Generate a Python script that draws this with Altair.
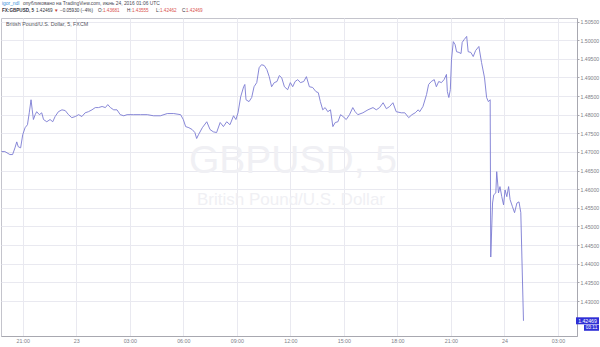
import altair as alt
import pandas as pd

# ---- data (minutes after 2016-06-22 21:00 UTC, price) ----
minutes = [
    -71, -60, -43, -34, -26, -20, -15, -7, 0, 8, 16, 22, 28, 32, 36, 42, 47, 56, 64, 70,
    81, 92, 101, 109, 120, 132, 143, 154, 165, 177, 188, 199, 210, 221, 233, 244, 255, 267, 278, 286,
    295, 306, 317, 328, 340, 351, 372, 396, 419, 440, 463, 486, 508, 531, 540, 548, 559, 570, 579, 585,
    591, 604, 619, 630, 641, 652, 664, 675, 686, 697, 709, 717, 724, 733, 743, 747, 751, 761, 770, 778,
    787, 795, 803, 812, 821, 829, 837, 846, 855, 863, 871, 880, 891, 900, 908, 916, 925, 934, 945, 954,
    964, 975, 986, 994, 1001, 1009, 1017, 1026, 1035, 1043, 1051, 1060, 1069, 1077, 1088, 1099, 1110, 1118, 1127, 1144,
    1161, 1178, 1189, 1200, 1212, 1223, 1234, 1245, 1256, 1273, 1285, 1298, 1309, 1320, 1330, 1335, 1346, 1358, 1365, 1374,
    1384, 1391, 1399, 1408, 1417, 1425, 1428, 1433, 1438, 1442, 1448, 1454, 1459, 1467, 1474, 1478, 1485, 1493, 1498, 1507,
    1515, 1523, 1534, 1543, 1553, 1560, 1566, 1572, 1574, 1580, 1584, 1591, 1594, 1600, 1605, 1611, 1617, 1622, 1628, 1634,
    1639, 1647, 1654, 1662, 1669, 1675, 1684,
]
prices = [
    1.4701, 1.4701, 1.4693, 1.4693, 1.4711, 1.4727, 1.4714, 1.4711, 1.4746, 1.4765, 1.4773, 1.4805, 1.4840, 1.4813, 1.4787, 1.4800, 1.4808, 1.4800, 1.4805, 1.4787,
    1.4781, 1.4787, 1.4781, 1.4795, 1.4808, 1.4813, 1.4811, 1.4800, 1.4792, 1.4795, 1.4800, 1.4795, 1.4805, 1.4808, 1.4813, 1.4819, 1.4819, 1.4822, 1.4819, 1.4827,
    1.4819, 1.4813, 1.4813, 1.4800, 1.4797, 1.4800, 1.4800, 1.4800, 1.4800, 1.4797, 1.4797, 1.4803, 1.4803, 1.4800, 1.4787, 1.4768, 1.4765, 1.4760, 1.4752, 1.4736,
    1.4746, 1.4765, 1.4781, 1.4760, 1.4754, 1.4752, 1.4779, 1.4768, 1.4781, 1.4773, 1.4797, 1.4787, 1.4805, 1.4848, 1.4875, 1.4881, 1.4840, 1.4835, 1.4846, 1.4875,
    1.4886, 1.4926, 1.4934, 1.4932, 1.4921, 1.4902, 1.4875, 1.4886, 1.4889, 1.4905, 1.4899, 1.4875, 1.4867, 1.4886, 1.4875, 1.4889, 1.4894, 1.4886, 1.4889, 1.4902,
    1.4875, 1.4873, 1.4862, 1.4859, 1.4835, 1.4813, 1.4819, 1.4808, 1.4813, 1.4768, 1.4779, 1.4781, 1.4800, 1.4795, 1.4787, 1.4800, 1.4819, 1.4808, 1.4800, 1.4805,
    1.4813, 1.4819, 1.4813, 1.4819, 1.4832, 1.4816, 1.4822, 1.4832, 1.4808, 1.4805, 1.4805, 1.4792, 1.4800, 1.4805, 1.4813, 1.4808, 1.4822, 1.4854, 1.4881, 1.4889,
    1.4894, 1.4875, 1.4889, 1.4886, 1.4894, 1.4908, 1.4862, 1.4846, 1.4867, 1.4948, 1.4996, 1.4988, 1.4969, 1.4967, 1.4964, 1.4994, 1.5002, 1.5010, 1.4969, 1.4967,
    1.4956, 1.4972, 1.4983, 1.4940, 1.4899, 1.4846, 1.4835, 1.4840, 1.4418, 1.4563, 1.4585, 1.4590, 1.4647, 1.4590, 1.4607, 1.4580, 1.4558, 1.4598, 1.4580, 1.4607,
    1.4572, 1.4553, 1.4537, 1.4563, 1.4566, 1.4537, 1.42469,
]

tick_minutes = [0, 180, 360, 540, 720, 900, 1080, 1260, 1440, 1620, 1800]
y_ticks = [1.430, 1.435, 1.440, 1.445, 1.450, 1.455, 1.460, 1.465, 1.470,
           1.475, 1.480, 1.485, 1.490, 1.495, 1.500, 1.505]
last_price = [1.42469]
last_label = ["1.42469"]
countdown = ["03:11"]

header1 = ["igor_ndl", "опубликовано на TradingView.com, июнь 24, 2016 01:06 UTC"]
header2_bold = ["FX:GBPUSD, 5"]
header2 = ["1.42469", "▼", "−0.05930 (−4%)", "O:", "1.43681",
           "H:", "1.43555", "L:", "1.42462", "C:", "1.42469"]
symbol_label = "British Pound/U.S. Dollar, 5, FXCM"
wm_big = "GBPUSD, 5"
wm_small = "British Pound/U.S. Dollar"

FONT = "Liberation Sans"
base_ms = int(pd.Timestamp("2016-06-22 21:00", tz="UTC").value // 10**6)
df = pd.DataFrame({"t": [base_ms + m * 60000 for m in minutes], "price": prices})
tick_values = [base_ms + m * 60000 for m in tick_minutes]
x_domain = [base_ms - 73 * 60000, base_ms + 1864 * 60000]
y_domain = [1.42061, 1.50594]

W, H = 576, 318

x_enc = alt.X(
    "t:T",
    scale=alt.Scale(type="utc", domain=x_domain, nice=False),
    axis=alt.Axis(
        values=tick_values,
        labelExpr="utchours(datum.value)==0 ? utcFormat(datum.value,'%d') : utcFormat(datum.value,'%H:%M')",
        title=None, grid=True, gridColor="#e9e9f0", ticks=False,
        labelFontSize=5.3, labelColor="#808088", labelFont=FONT, labelPadding=2,
        domainColor="#a8a8b0", labelFlush=False, labelOverlap=False,
    ),
)
y_axis = alt.Axis(
    orient="right", values=y_ticks, format=".5f", title=None, grid=True,
    gridColor="#e9e9f0", tickSize=2, tickColor="#a8a8b0",
    labelFontSize=5.2, labelColor="#808088", labelFont=FONT, labelPadding=1,
    domainColor="#a8a8b0", labelOverlap=False, labelFlush=False,
)
y_scale = alt.Scale(domain=y_domain, nice=False, zero=False)
y_enc = alt.Y("price:Q", scale=y_scale, axis=y_axis)

one = pd.DataFrame({"a": [0]})

wm1 = alt.Chart(one).mark_text(
    text=wm_big, fontSize=39, font=FONT, color="#f0f0f4", align="center", baseline="middle"
).encode(x=alt.value(292), y=alt.value(143))
wm2 = alt.Chart(one).mark_text(
    text=wm_small, fontSize=17, font=FONT, color="#f0f0f4", align="center", baseline="middle"
).encode(x=alt.value(290), y=alt.value(182))

line = alt.Chart(df).mark_line(color="#7a7ad2", strokeWidth=0.9).encode(x=x_enc, y=y_enc)

sym = alt.Chart(one).mark_text(
    text=symbol_label, fontSize=5.3, font=FONT, color="#555560", align="left", baseline="middle"
).encode(x=alt.value(5), y=alt.value(6))

h1_x = [1, 22]
h1_col = ["#3b8fd9", "#4a4a55"]
h1 = alt.Chart(pd.DataFrame({"txt": header1, "px": h1_x, "col": h1_col})).mark_text(
    fontSize=4.9, font=FONT, align="left", baseline="middle"
).encode(x=alt.X("px:Q", scale=None), y=alt.value(-14), text="txt:N", color=alt.Color("col:N", scale=None))

HF = 4.6
h2b = alt.Chart(pd.DataFrame({"txt": header2_bold})).mark_text(
    fontSize=HF, font=FONT, align="left", baseline="middle", fontWeight="bold", color="#333340"
).encode(x=alt.value(1), y=alt.value(-7), text="txt:N")

h2_x = [35, 53, 59, 97, 102, 126, 131, 155, 159, 181, 185]
h2_col = ["#333340", "#c0392b", "#333340", "#333340", "#d9534f",
          "#333340", "#d9534f", "#333340", "#d9534f", "#333340", "#d9534f"]
h2 = alt.Chart(pd.DataFrame({"txt": header2, "px": h2_x, "col": h2_col})).mark_text(
    fontSize=HF, font=FONT, align="left", baseline="middle"
).encode(x=alt.X("px:Q", scale=None), y=alt.value(-7), text="txt:N",
         color=alt.Color("col:N", scale=None))

lp = pd.DataFrame({"price": last_price, "lab": last_label, "cd": countdown})
box1 = alt.Chart(lp).mark_rule(color="#2f2fd6", strokeWidth=7, strokeCap="butt").encode(
    x=alt.value(575), x2=alt.value(598), y=y_enc)
txt1 = alt.Chart(lp).mark_text(color="white", fontSize=5.2, font=FONT, align="center", baseline="middle").encode(
    x=alt.value(586.5), y=y_enc, text="lab:N")
box2 = alt.Chart(lp).mark_rule(color="#2f2fd6", strokeWidth=6, strokeCap="butt", yOffset=7).encode(
    x=alt.value(583), x2=alt.value(598), y=y_enc)
txt2 = alt.Chart(lp).mark_text(color="white", fontSize=4.8, font=FONT, align="center", baseline="middle", yOffset=7).encode(
    x=alt.value(590.5), y=y_enc, text="cd:N")

chart = alt.layer(wm1, wm2, line, sym, h1, h2b, h2, box1, txt1, box2, txt2).properties(
    width=W, height=H,
    autosize=alt.AutoSizeParams(type="none"),
    padding={"left": 1, "top": 18, "right": 23, "bottom": 11},
    background="white",
).configure_view(stroke="#c4c4cc", strokeWidth=1)

chart.save("out.html", embed_options={"renderer": "svg", "actions": False})
